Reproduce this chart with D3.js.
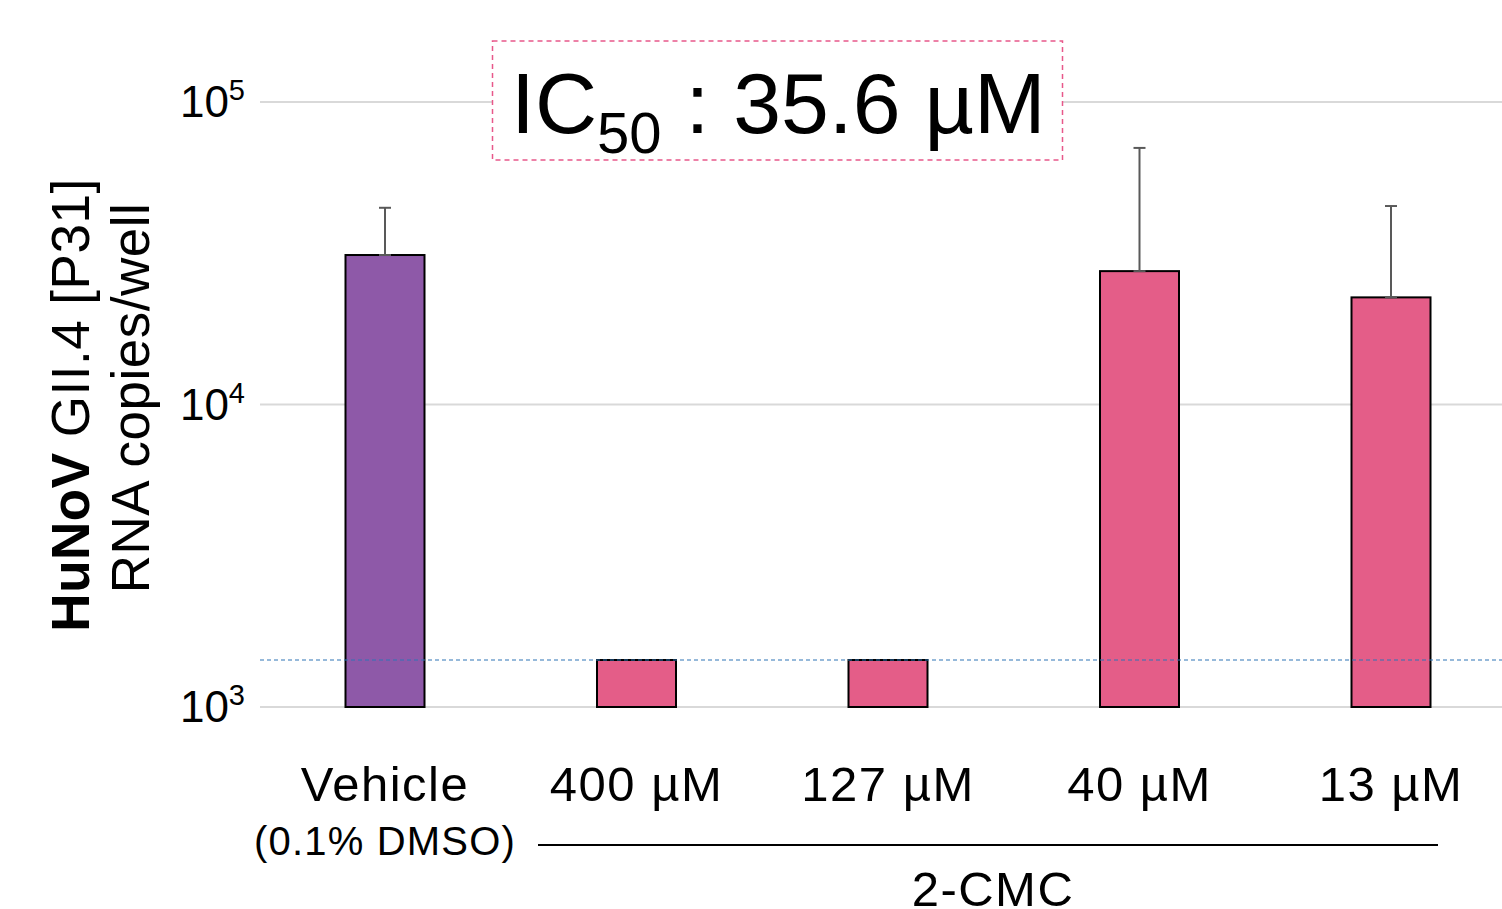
<!DOCTYPE html>
<html>
<head>
<meta charset="utf-8">
<script src="https://cdn.jsdelivr.net/npm/d3@7"></script>
<style>
  body { margin: 0; background: #fff; }
  svg { display: block; font-family: "Liberation Sans", Arial, sans-serif; }
</style>
</head>
<body>
<div id="chart"></div>
<script>
const categories = ["Vehicle", "400 µM", "127 µM", "40 µM", "13 µM"];
const means = [31200, 1430, 1430, 27600, 22600];
const errorTops = [44700, null, null, 70500, 45300];
const barColors = ["#8e59a8", "#e45d88", "#e45d88", "#e45d88", "#e45d88"];
const tickExponents = [3, 4, 5];
const detectionLimit = 1430;

const width = 1502, height = 909;
const svg = d3.select("#chart").append("svg").attr("width", width).attr("height", height);

const y = d3.scaleLog().domain([1000, 100000]).range([707, 102]);
const x = d3.scalePoint().domain(categories).range([259.25, 1516.75]).padding(0.5);
const barWidth = 79;

// gridlines
svg.append("g").selectAll("line").data(tickExponents).join("line")
  .attr("x1", 260).attr("x2", 1502)
  .attr("y1", (d) => y(10 ** d)).attr("y2", (d) => y(10 ** d))
  .attr("stroke", "#d9d9d9").attr("stroke-width", 2);

// tick labels with superscripts
const ticks = svg.append("g").selectAll("text").data(tickExponents).join("text")
  .attr("x", 245).attr("y", (d) => y(10 ** d) + 15)
  .attr("text-anchor", "end").attr("font-size", 44).attr("fill", "#000");
ticks.append("tspan").text("10");
ticks.append("tspan").attr("font-size", 29).attr("dy", -17).text((d) => d);

// bars
svg.append("g").selectAll("rect").data(categories).join("rect")
  .attr("x", (d) => x(d) - barWidth / 2).attr("width", barWidth)
  .attr("y", (d, i) => y(means[i])).attr("height", (d, i) => y(1000) - y(means[i]))
  .attr("fill", (d, i) => barColors[i]).attr("stroke", "#000").attr("stroke-width", 2);

// error bars
const err = svg.append("g").attr("stroke", "#595959").attr("stroke-width", 2);
categories.forEach((c, i) => {
  if (errorTops[i] == null) return;
  err.append("line").attr("x1", x(c)).attr("x2", x(c)).attr("y1", y(means[i])).attr("y2", y(errorTops[i]));
  err.append("line").attr("x1", x(c) - 6).attr("x2", x(c) + 6).attr("y1", y(errorTops[i])).attr("y2", y(errorTops[i]));
  err.append("line").attr("x1", x(c) - 6).attr("x2", x(c) + 6).attr("y1", y(means[i])).attr("y2", y(means[i]));
});

// detection limit
svg.append("line").attr("x1", 260).attr("x2", 1502)
  .attr("y1", y(detectionLimit)).attr("y2", y(detectionLimit))
  .attr("stroke", "#2e75b6").attr("stroke-width", 1.2).attr("stroke-dasharray", "4,3");

// IC50 box
svg.append("rect").attr("x", 492.5).attr("y", 41).attr("width", 570).attr("height", 119)
  .attr("fill", "#fff").attr("stroke", "#e8588a").attr("stroke-width", 1.5).attr("stroke-dasharray", "5,4");
const ic = svg.append("text").attr("x", 511).attr("y", 133).attr("font-size", 86).attr("fill", "#000");
ic.append("tspan").text("IC");
ic.append("tspan").attr("font-size", 58).attr("dy", 20).text("50");
ic.append("tspan").attr("dy", -20).text(" : 35.6 µM");

// category labels
svg.append("g").selectAll("text").data(categories).join("text")
  .attr("x", (d) => x(d)).attr("y", 801)
  .attr("text-anchor", "middle").attr("font-size", 49).attr("letter-spacing", 1.5).attr("fill", "#000")
  .text((d) => d);
svg.append("text").attr("x", x(categories[0])).attr("y", 855)
  .attr("text-anchor", "middle").attr("font-size", 40).attr("letter-spacing", 1.2).attr("fill", "#000").text("(0.1% DMSO)");

// 2-CMC group bracket
svg.append("line").attr("x1", 538).attr("x2", 1438).attr("y1", 845).attr("y2", 845)
  .attr("stroke", "#000").attr("stroke-width", 2);
svg.append("text").attr("x", 993).attr("y", 906).attr("text-anchor", "middle")
  .attr("font-size", 49).attr("letter-spacing", 1.5).attr("fill", "#000").text("2-CMC");

// y axis title
const title = svg.append("g").attr("transform", "translate(0,405) rotate(-90)");
const t1 = title.append("text").attr("x", 0).attr("y", 89).attr("text-anchor", "middle")
  .attr("font-size", 53).attr("letter-spacing", 0.5).attr("fill", "#000");
t1.append("tspan").attr("font-weight", "bold").text("HuNoV");
t1.append("tspan").text(" GII.4 [P31]");
title.append("text").attr("x", 7).attr("y", 149).attr("text-anchor", "middle")
  .attr("font-size", 53).attr("letter-spacing", 0.5).attr("fill", "#000").text("RNA copies/well");
</script>
</body>
</html>
